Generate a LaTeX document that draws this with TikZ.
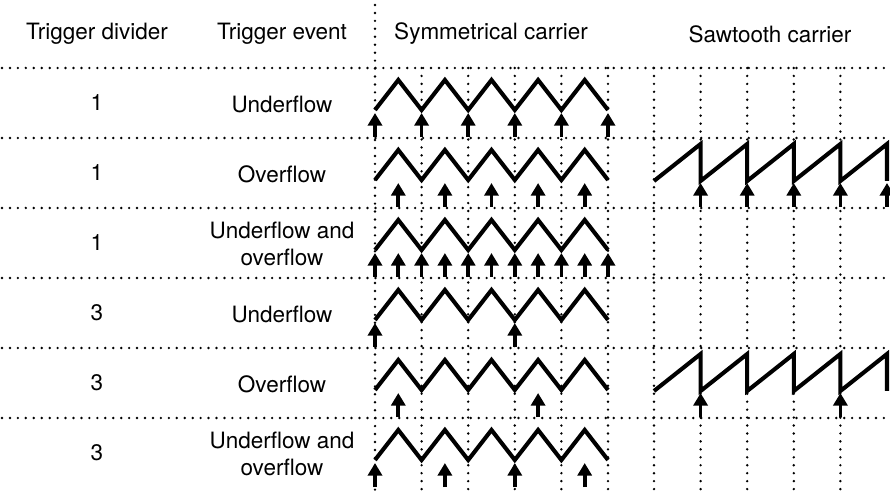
\documentclass[tikz,border=0pt]{standalone}
\usepackage{fontspec}
\setmainfont{TeX Gyre Heros}
\usetikzlibrary{calc, arrows.meta}
\tikzstyle{grid}=[line width=1.9pt, line cap=round, dash pattern=on 0pt off 5.65pt]
\tikzstyle{wave}=[line width=2.9pt]
\tikzstyle{ev}=[line width=2.6pt, ->]
\tikzstyle{lbl}=[align=center, font=\fontsize{16}{19}\selectfont]

\begin{document}
\begin{tikzpicture}[x=0.025cm, y=-0.025cm, >={Triangle[width=10pt,length=9pt]}]
  \useasboundingbox (0,0) rectangle (890,492);

  \foreach \j in {0,...,5}
    \draw[grid] (2,68+70*\j) -- (890,68+70*\j);
  \draw[grid] (375,5) -- (375,492);
  \foreach \i in {1,...,5}
    \draw[grid] (375+46.6*\i,68) -- (375+46.6*\i,492);
  \foreach \i in {0,...,4}
    \draw[grid] (654+46.6*\i,68) -- (654+46.6*\i,492);

  \node[lbl] (hdiv) at (97,34) {Trigger divider};
  \node[lbl] (hevt) at (282,34) {Trigger event};
  \node[lbl] (hsym) at (491,34) {Symmetrical carrier};
  \node[lbl] (hsaw) at (770,34) {Sawtooth carrier};

  \foreach \j/\d/\e in {1/1/Underflow, 2/1/Overflow, 3/1/{Underflow and\\overflow},
                        4/3/Underflow, 5/3/Overflow, 6/3/{Underflow and\\overflow}} {
    \node[lbl] (div\j) at (97,33+70*\j) {\d};
    \node[lbl] (evt\j) at (282,34+70*\j) {\e};
    \draw[wave] (375,70*\j+40) \foreach \i in {0,...,4} { -- ++(23.3,-30) -- ++(23.3,30) };
  }

  \foreach \j in {2,5}
    \draw[wave] (654,70*\j+41) \foreach \k in {1,...,5} { -- ++(46.6,-37) -- ++(0,37) };

  \foreach \j/\ts in {1/{0,2,4,6,8,10}, 2/{1,3,5,7,9}, 3/{0,...,10},
                      4/{0,6}, 5/{1,7}, 6/{0,3,6,9}}
    \foreach \t in \ts {
      \coordinate (lo\j-\t) at (375+23.3*\t,70*\j+67);
      \coordinate (hi\j-\t) at (375+23.3*\t,70*\j+43);
      \draw[ev] (lo\j-\t) -- (hi\j-\t);
    }

  \foreach \j/\ks in {2/{1,...,5}, 5/{1,4}}
    \foreach \k in \ks {
      \coordinate (slo\j-\k) at (654+46.6*\k,70*\j+67);
      \coordinate (shi\j-\k) at (654+46.6*\k,70*\j+43);
      \draw[ev] (slo\j-\k) -- (shi\j-\k);
    }
\end{tikzpicture}
\end{document}
